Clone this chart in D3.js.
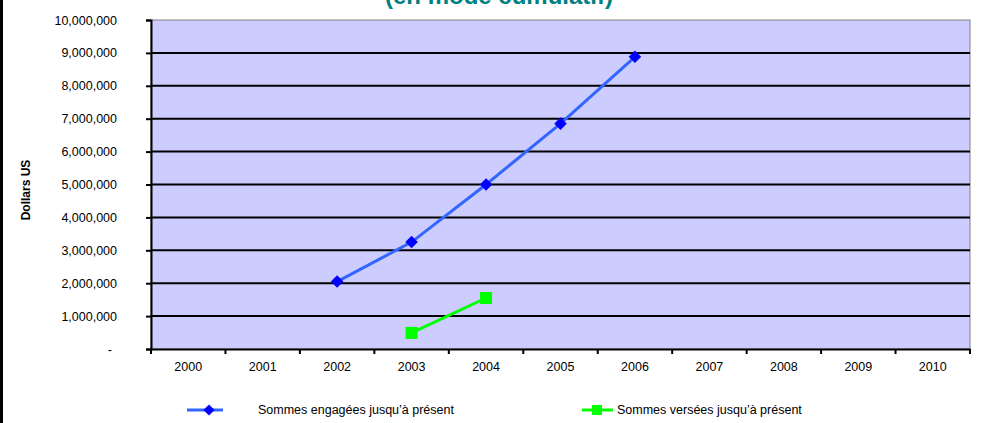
<!DOCTYPE html>
<html>
<head>
<meta charset="utf-8">
<script src="https://cdn.jsdelivr.net/npm/d3@7"></script>
<style>
  body { margin: 0; background: #fff; }
  svg { display: block; font-family: "Liberation Sans", Arial, sans-serif; }
</style>
</head>
<body>
<svg></svg>
<script>
// data
let years = ['2000', '2001', '2002', '2003', '2004', '2005', '2006', '2007', '2008', '2009', '2010']
let engagedYears = ['2002', '2003', '2004', '2005', '2006']
let engagedValues = [2050000, 3250000, 5000000, 6850000, 8880000]
let paidYears = ['2003', '2004']
let paidValues = [490000, 1550000]
let yTicks = [0, 1000000, 2000000, 3000000, 4000000, 5000000, 6000000, 7000000, 8000000, 9000000, 10000000]

let width = 994
let height = 423
let plotLeft = 151, plotRight = 970, plotTop = 20, plotBottom = 349
let fontSize = 12.5

let svg = d3.select('svg').attr('width', width).attr('height', height)

// scales
let xScale = d3.scaleBand().domain(years).range([plotLeft, plotRight])
let yScale = d3.scaleLinear().domain([0, 10000000]).range([plotBottom, plotTop])

// frame line on the left
svg.append('line')
    .attr('x1', 1.5).attr('x2', 1.5).attr('y1', 0).attr('y2', height)
    .attr('stroke', '#000').attr('stroke-width', 3)

// title (cut at the top, as in the picture)
svg.append('text')
    .attr('x', 499).attr('y', 4)
    .attr('text-anchor', 'middle')
    .attr('font-size', 24).attr('font-weight', 'bold')
    .attr('fill', '#008080')
    .text('(en mode cumulatif)')

// plot background
svg.append('rect')
    .attr('x', plotLeft).attr('y', plotTop)
    .attr('width', plotRight - plotLeft).attr('height', plotBottom - plotTop)
    .attr('fill', '#CCCCFF')
    .attr('stroke', '#808080').attr('stroke-width', 1)

// gridlines
svg.append('g').selectAll('line')
    .data(yTicks.filter(d => d > 0 && d < 10000000))
    .enter().append('line')
    .attr('x1', plotLeft).attr('x2', plotRight)
    .attr('y1', d => yScale(d)).attr('y2', d => yScale(d))
    .attr('stroke', '#000').attr('stroke-width', 2)

// y axis
let yAxis = d3.axisLeft(yScale)
    .tickValues(yTicks)
    .tickSize(5)
    .tickPadding(29)
    .tickFormat(d => d === 0 ? '-' : d3.format(',')(d))
let gy = svg.append('g')
    .attr('transform', 'translate(' + plotLeft + ',0)')
    .call(yAxis)
gy.select('.domain').attr('stroke', '#000').attr('stroke-width', 2)
gy.selectAll('.tick line').attr('stroke', '#000').attr('stroke-width', 2)
gy.selectAll('.tick text').attr('font-size', fontSize).attr('fill', '#000')
    .attr('font-family', '"Liberation Sans", Arial, sans-serif')
gy.selectAll('.tick text').filter(d => d === 0).attr('dx', -5)

// x axis, ticks on category boundaries
let xAxis = d3.axisBottom(xScale).tickSize(0).tickPadding(13)
let gx = svg.append('g')
    .attr('transform', 'translate(0,' + plotBottom + ')')
    .call(xAxis)
gx.select('.domain').attr('stroke', '#000').attr('stroke-width', 2)
gx.selectAll('.tick text').attr('font-size', fontSize).attr('fill', '#000')
    .attr('font-family', '"Liberation Sans", Arial, sans-serif')
gx.selectAll('.boundary')
    .data(years.concat(['end']))
    .enter().append('line')
    .attr('x1', (d, i) => plotLeft + i * xScale.bandwidth())
    .attr('x2', (d, i) => plotLeft + i * xScale.bandwidth())
    .attr('y1', 0).attr('y2', 5)
    .attr('stroke', '#000').attr('stroke-width', 2)

// y axis title
svg.append('text')
    .attr('transform', 'translate(30,190) rotate(-90)')
    .attr('text-anchor', 'middle')
    .attr('font-size', 12).attr('font-weight', 'bold')
    .text('Dollars US')

let cx = d => xScale(d) + xScale.bandwidth() / 2
let line = d3.line().x(d => cx(d[0])).y(d => yScale(d[1]))

// engaged series
let engaged = engagedYears.map((y, i) => [y, engagedValues[i]])
svg.append('path')
    .datum(engaged)
    .attr('d', line)
    .attr('fill', 'none').attr('stroke', '#3366FF').attr('stroke-width', 3)
svg.append('g').selectAll('path')
    .data(engaged)
    .enter().append('path')
    .attr('d', d3.symbol().type(d3.symbolDiamond2).size(100))
    .attr('transform', d => 'translate(' + cx(d[0]) + ',' + yScale(d[1]) + ')')
    .attr('fill', '#0000FF')

// paid series
let paid = paidYears.map((y, i) => [y, paidValues[i]])
svg.append('path')
    .datum(paid)
    .attr('d', line)
    .attr('fill', 'none').attr('stroke', '#00FF00').attr('stroke-width', 3)
svg.append('g').selectAll('rect')
    .data(paid)
    .enter().append('rect')
    .attr('x', d => cx(d[0]) - 6).attr('y', d => yScale(d[1]) - 6)
    .attr('width', 12).attr('height', 12)
    .attr('fill', '#00FF00')

// legend
let legY = 410
let leg1 = svg.append('g')
leg1.append('line').attr('x1', 187).attr('x2', 223).attr('y1', legY).attr('y2', legY)
    .attr('stroke', '#3366FF').attr('stroke-width', 3)
leg1.append('path').attr('d', d3.symbol().type(d3.symbolDiamond2).size(80))
    .attr('transform', 'translate(209,' + legY + ')').attr('fill', '#0000FF')
leg1.append('text').attr('x', 258).attr('y', legY + 4)
    .attr('font-size', fontSize).text('Sommes engagées jusqu\u2019à présent')

let leg2 = svg.append('g')
leg2.append('line').attr('x1', 582).attr('x2', 613).attr('y1', legY).attr('y2', legY)
    .attr('stroke', '#00FF00').attr('stroke-width', 3)
leg2.append('rect').attr('x', 592).attr('y', legY - 5).attr('width', 10).attr('height', 10)
    .attr('fill', '#00FF00')
leg2.append('text').attr('x', 617).attr('y', legY + 4)
    .attr('font-size', fontSize).text('Sommes versées jusqu\u2019à présent')
</script>
</body>
</html>
